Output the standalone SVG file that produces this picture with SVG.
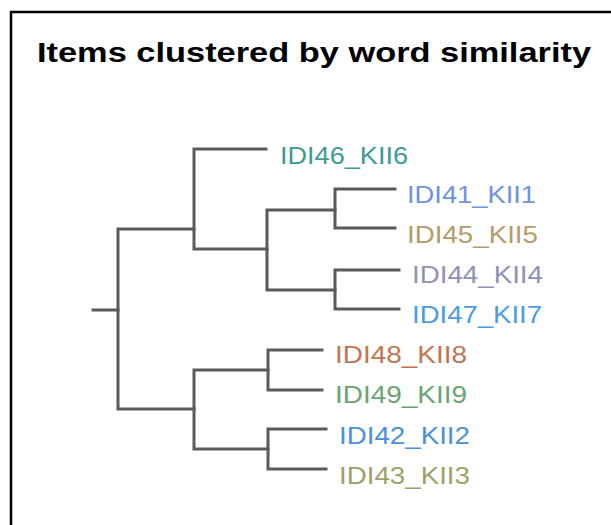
<svg xmlns="http://www.w3.org/2000/svg" width="611" height="525" viewBox="0 0 611 525">
<style>
.lbl{font-family:"Liberation Sans",Arial,sans-serif;font-size:24px}
.title{font-family:"Liberation Sans",Arial,sans-serif;font-size:27px;font-weight:bold;fill:#000}
.br{fill:none;stroke:#5a5a5a;stroke-width:3;stroke-linejoin:miter;stroke-linecap:square}
</style>
<rect x="0" y="0" width="611" height="525" fill="#fff"/>
<path d="M11 525 V12 H611" fill="none" stroke="#000" stroke-width="2.5"/>
<text class="title" x="37" y="62" textLength="554" lengthAdjust="spacingAndGlyphs">Items clustered by word similarity</text>
<g id="connectors">
<path class="br" d="M93 310 H118"/>
<path class="br" d="M194 229 H118 V409 H194"/>
<path class="br" d="M266 149 H194 V249 H267"/>
<path class="br" d="M335 210 H267 V290 H335"/>
<path class="br" d="M395 189 H335 V228 H395"/>
<path class="br" d="M399 270 H335 V309 H399"/>
<path class="br" d="M268 370 H194 V449 H268"/>
<path class="br" d="M322 350 H268 V390 H322"/>
<path class="br" d="M326 429 H268 V469 H326"/>
</g>
<g id="IDI46_KII6"><text class="lbl" x="280" y="164" textLength="128" lengthAdjust="spacingAndGlyphs" fill="#3f9a94">IDI46_KII6</text></g>
<g id="IDI41_KII1"><text class="lbl" x="407" y="203" textLength="129" lengthAdjust="spacingAndGlyphs" fill="#6f93e0">IDI41_KII1</text></g>
<g id="IDI45_KII5"><text class="lbl" x="407" y="243" textLength="131" lengthAdjust="spacingAndGlyphs" fill="#b39b6a">IDI45_KII5</text></g>
<g id="IDI44_KII4"><text class="lbl" x="412" y="283" textLength="131" lengthAdjust="spacingAndGlyphs" fill="#9090b8">IDI44_KII4</text></g>
<g id="IDI47_KII7"><text class="lbl" x="412" y="323" textLength="130" lengthAdjust="spacingAndGlyphs" fill="#4a9ce8">IDI47_KII7</text></g>
<g id="IDI48_KII8"><text class="lbl" x="335" y="363" textLength="132" lengthAdjust="spacingAndGlyphs" fill="#c07550">IDI48_KII8</text></g>
<g id="IDI49_KII9"><text class="lbl" x="335" y="403" textLength="132" lengthAdjust="spacingAndGlyphs" fill="#6aa473">IDI49_KII9</text></g>
<g id="IDI42_KII2"><text class="lbl" x="339" y="444" textLength="131" lengthAdjust="spacingAndGlyphs" fill="#4a8fe0">IDI42_KII2</text></g>
<g id="IDI43_KII3"><text class="lbl" x="339" y="484" textLength="131" lengthAdjust="spacingAndGlyphs" fill="#9fa06a">IDI43_KII3</text></g>
</svg>
